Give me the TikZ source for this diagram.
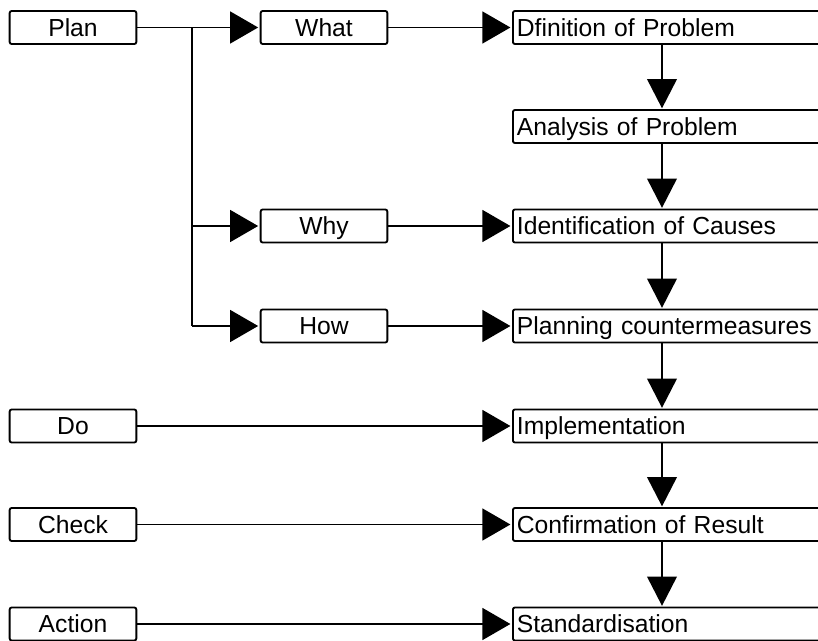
\documentclass[tikz,border=0pt]{standalone}
\usepackage{fontspec}
\setmainfont{Liberation Sans}
\usetikzlibrary{arrows.meta}
\begin{document}
\begin{tikzpicture}[x=0.75pt,y=-0.75pt,
  font=\fontsize{18.5}{22}\selectfont,
  lbox/.style={draw=black, line width=1.4pt, rounded corners=1.5pt,
    minimum height=24.75pt, minimum width=95pt, inner sep=2pt,
    text height=13pt, text depth=0pt},
  rbox/.style={draw=black, line width=1.4pt, rounded corners=1.5pt,
    minimum height=24.75pt, text width=232pt, align=left,
    inner xsep=3pt, inner ysep=2pt, anchor=west,
    text height=13pt, text depth=0pt},
  conn/.style={line width=1pt},
  vline/.style={line width=2.2pt},
  tip/.style={-{Triangle[length=21pt,width=24pt]}, shorten >=1.2pt},
  vtip/.style={-{Triangle[length=22pt,width=22pt]}, shorten >=0.5pt}]
\useasboundingbox (0,0) rectangle (818,641);
\clip (0,0) rectangle (818,641);
% left column
\node[lbox] (plan) at (73,27.5) {Plan};
\node[lbox] (do) at (73,426) {Do};
\node[lbox] (chk) at (73,524.5) {Check};
\node[lbox] (act) at (73,624) {Action};
% middle column
\node[lbox] (what) at (324,27.5) {What};
\node[lbox] (why) at (324,226) {Why};
\node[lbox] (how) at (324,326) {How};
% right column
\node[rbox] (def) at (512,27.5) {Dfinition of Problem};
\node[rbox] (ana) at (512,126.5) {Analysis of Problem};
\node[rbox] (ide) at (512,226) {Identification of Causes};
\node[rbox] (pla) at (512,326) {Planning countermeasures};
\node[rbox] (imp) at (512,426) {Implementation};
\node[rbox] (con) at (512,524.5) {Confirmation of Result};
\node[rbox] (std) at (512,624) {Standardisation};
% plan branches
\coordinate (j) at (192,27.5);
\draw[conn] (plan) -- (j);
\draw[vline] (j) -- (j |- how);
\draw[conn,tip] (j) -- (what);
\draw[conn,tip] (j |- why) -- (why);
\draw[conn,tip] (j |- how) -- (how);
% horizontal connectors to right column
\draw[conn,tip] (what) -- (def);
\draw[conn,tip] (why) -- (ide);
\draw[conn,tip] (how) -- (pla);
\draw[conn,tip] (do) -- (imp);
\draw[conn,tip] (chk) -- (con);
\draw[conn,tip] (act) -- (std);
% vertical flow
\coordinate (vx) at (662,0);
\draw[vline,vtip] (vx |- def.south) -- (vx |- ana.north);
\draw[vline,vtip] (vx |- ana.south) -- (vx |- ide.north);
\draw[vline,vtip] (vx |- ide.south) -- (vx |- pla.north);
\draw[vline,vtip] (vx |- pla.south) -- (vx |- imp.north);
\draw[vline,vtip] (vx |- imp.south) -- (vx |- con.north);
\draw[vline,vtip] (vx |- con.south) -- (vx |- std.north);
\end{tikzpicture}
\end{document}
